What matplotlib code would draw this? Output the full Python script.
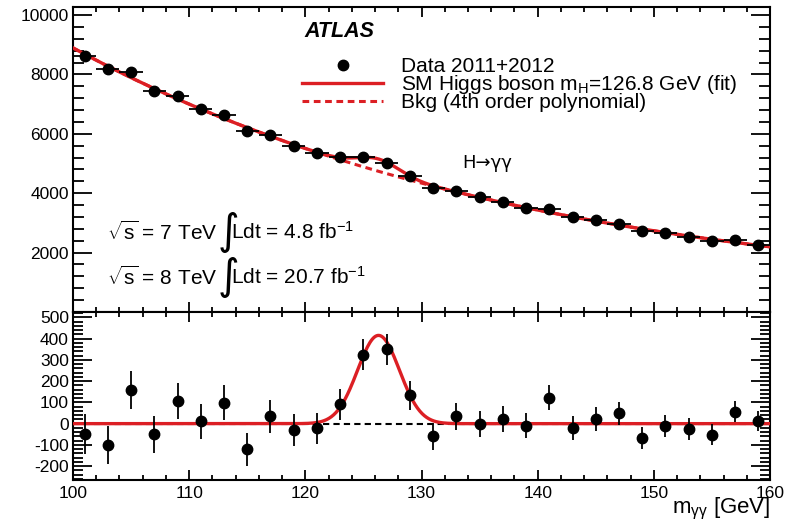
import numpy as np
import matplotlib
matplotlib.use('Agg')
import matplotlib.pyplot as plt
from matplotlib.ticker import MultipleLocator, FixedLocator
from matplotlib.lines import Line2D

plt.rcParams['font.family'] = ['Liberation Sans', 'DejaVu Sans']
plt.rcParams['mathtext.fontset'] = 'custom'
plt.rcParams['mathtext.rm'] = 'Liberation Sans'
plt.rcParams['mathtext.it'] = 'Liberation Sans:italic'
plt.rcParams['mathtext.bf'] = 'Liberation Sans:bold'
plt.rcParams['axes.unicode_minus'] = False

# ---- data ----
mass = [101, 103, 105, 107, 109, 111, 113, 115, 117, 119, 121, 123, 125, 127, 129,
        131, 133, 135, 137, 139, 141, 143, 145, 147, 149, 151, 153, 155, 157, 159]
events = [8620, 8185, 8070, 7455, 7290, 6830, 6630, 6080, 5945, 5600, 5340, 5220, 5220, 5025, 4565,
          4175, 4085, 3860, 3705, 3500, 3480, 3190, 3085, 2975, 2715, 2660, 2525, 2405, 2415, 2245]
resid = [-48, -102, 157, -51, 106, 11, 99, -120, 34, -28, -22, 91, 325, 349, 134,
         -60, 34, -2, 22, -9, 122, -22, 23, 48, -68, -9, -25, -52, 56, 11]
err = [93, 90, 90, 86, 85, 83, 81, 78, 77, 75, 73, 72, 72, 71, 68,
       65, 64, 62, 61, 59, 59, 56, 56, 55, 52, 52, 50, 49, 49, 47]
bin_halfwidth = 1.0

# signal model parameters (fit shown in reference)
sig_mass = 126.3
sig_width = 1.8
sig_peak = 415

x = np.array(mass, float)
y = np.array(events, float)
r = np.array(resid, float)
bkg_pts = y - r
coef = np.polyfit(x - 130, bkg_pts, 4)
xf = np.linspace(100, 160, 600)
bkg = np.polyval(coef, xf - 130)
sig = sig_peak * np.exp(-0.5 * ((xf - sig_mass) / sig_width) ** 2)

RED = '#dc1f24'

fig = plt.figure(figsize=(7.96, 5.23), dpi=100)
W, H = 796, 523
L, R = 73 / W, 770 / W
ax1 = fig.add_axes([L, 1 - 312 / H, R - L, (312 - 7) / H])
ax2 = fig.add_axes([L, 1 - 480 / H, R - L, (480 - 312) / H], sharex=ax1)

# top panel
ax1.plot(xf, bkg, color=RED, lw=2.2, ls=(0, (2.2, 1.5)), zorder=2)
ax1.plot(xf, bkg + sig, color=RED, lw=2.4, zorder=3)
ax1.errorbar(x, y, xerr=bin_halfwidth, yerr=err, fmt='o', color='black', ms=7.5,
             elinewidth=1.3, capsize=0, zorder=4)
ax1.set_xlim(100, 160)
ax1.set_ylim(0, 10270)

# bottom panel
ax2.plot(xf, np.zeros_like(xf), color='black', lw=1.5, ls=(0, (3, 2)), zorder=2)
ax2.plot(xf, sig, color=RED, lw=2.4, zorder=3)
ax2.errorbar(x, r, yerr=err, fmt='o', color='black', ms=7.5,
             elinewidth=1.3, capsize=0, zorder=4)
ax2.set_ylim(-265, 525)

for ax in (ax1, ax2):
    for s in ax.spines.values():
        s.set_linewidth(1.5)
    ax.xaxis.set_major_locator(MultipleLocator(10))
    ax.xaxis.set_minor_locator(MultipleLocator(2))
    ax.tick_params(which='both', direction='in', top=True, right=True, width=1.3,
                   labelsize=12.5, colors='black')
    ax.tick_params(axis='x', which='major', length=7)
    ax.tick_params(axis='x', which='minor', length=3.5)

ax1.yaxis.set_major_locator(FixedLocator([2000, 4000, 6000, 8000, 10000]))
ax1.yaxis.set_minor_locator(MultipleLocator(400))
ax1.tick_params(axis='y', which='major', length=14, pad=3)
ax1.tick_params(axis='y', which='minor', length=8)
ax1.tick_params(axis='x', labelbottom=False)

ax2.yaxis.set_major_locator(MultipleLocator(100))
ax2.yaxis.set_minor_locator(MultipleLocator(20))
ax2.tick_params(axis='y', which='major', length=14, pad=3)
ax2.tick_params(axis='y', which='minor', length=7)
ax2.tick_params(axis='x', pad=4)
ax2.set_yticks([-200, -100, 0, 100, 200, 300, 400, 500])
ax2.set_xlabel(r'm$_{\mathregular{γγ}}$ [GeV]', fontsize=16, loc='right', labelpad=-3)

# texts
ax1.text(0.332, 0.92, 'ATLAS', transform=ax1.transAxes, fontsize=15.5,
         fontweight='bold', fontstyle='italic', va='center', ha='left')
handles = [Line2D([], [], marker='o', ls='none', color='black', ms=7.5),
           Line2D([], [], color=RED, lw=2.4),
           Line2D([], [], color=RED, lw=2.2, ls=(0, (2.2, 1.5)))]
labels = ['Data 2011+2012', r'SM Higgs boson m$_{\mathregular{H}}$=126.8 GeV (fit)',
          'Bkg (4th order polynomial)']
ax1.legend(handles, labels, loc='upper left', bbox_to_anchor=(0.3286, 0.836),
           frameon=False, fontsize=15, handlelength=3.9, handletextpad=0.85,
           labelspacing=-0.14, borderpad=0, borderaxespad=0)
ax1.text(0.559, 0.487, 'H\u2192γγ', transform=ax1.transAxes,
         fontsize=13, va='center', ha='left', family='DejaVu Sans')

for yy, e, lum in [(0.262, '7', '4.8'), (0.114, '8', '20.7')]:
    ax1.text(0.049, yy, r'$\sqrt{\mathregular{s}}$ = %s TeV' % e, transform=ax1.transAxes,
             fontsize=15, va='center', ha='left')
    ax1.text(0.207, yy, '\u222b', transform=ax1.transAxes, fontsize=30,
             va='center', ha='left', family='DejaVu Sans')
    ax1.text(0.227, yy, r'Ldt = %s fb$^{\mathregular{-1}}$' % lum, transform=ax1.transAxes,
             fontsize=15, va='center', ha='left')

fig.savefig('out.png', dpi=100)
